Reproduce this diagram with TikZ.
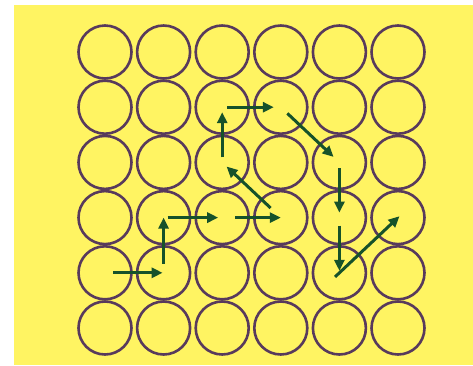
\documentclass[tikz,border=0pt]{standalone}
\usetikzlibrary{arrows.meta}
\definecolor{bgyellow}{RGB}{255,244,98}
\definecolor{ringpurple}{RGB}{88,58,92}
\definecolor{walkgreen}{RGB}{22,82,42}
\tikzset{
  site/.style={circle, draw=ringpurple, line width=2.6pt, minimum size=53pt, inner sep=0pt},
  walk/.style={draw=walkgreen, line width=3pt, -{Triangle[length=11pt,width=10pt]}}
}
\begin{document}
\begin{tikzpicture}[x=1pt,y=-1pt]
\useasboundingbox (0,0) rectangle (473,365);
\fill[bgyellow] (14,5) rectangle (473,365);
\foreach \i in {0,...,5} \foreach \j in {0,...,5}
  \node[site] (c\i\j) at (105+58.6*\i, 52+55.2*\j) {};
\foreach \a/\b/\s/\e in {04/14/8/1, 14/13/9/0, 13/23/4/4, 23/33/13/0, 33/22/14/6, 22/21/5/5,
  21/31/5/7, 31/42/9/8, 42/43/6/5, 43/44/8/2, 44/53/-6/-2}
  \draw[walk, shorten <=\s pt, shorten >=\e pt] (c\a.center) -- (c\b.center);
\end{tikzpicture}
\end{document}
